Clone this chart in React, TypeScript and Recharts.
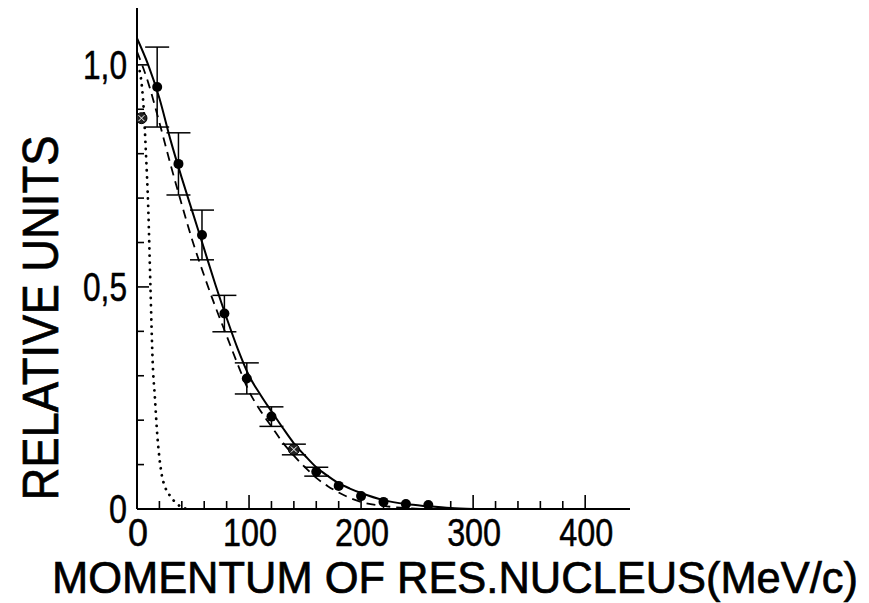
import { ComposedChart, Line, Scatter, ErrorBar, XAxis, YAxis } from 'recharts';

// fit curves (momentum in MeV/c, relative units)
const solidMomentum = [0, 10, 20, 30, 40, 50, 60, 70, 80, 90, 100, 110, 120, 130, 140, 150, 160, 170, 180, 190, 200, 220, 240, 260, 280, 300];
const solidValues = [1.06, 1.0, 0.925, 0.83, 0.745, 0.665, 0.585, 0.505, 0.43, 0.36, 0.3, 0.258, 0.22, 0.183, 0.148, 0.12, 0.094, 0.075, 0.058, 0.046, 0.036, 0.02, 0.011, 0.006, 0.002, 0];

const dashedMomentum = [0, 10, 20, 30, 40, 50, 60, 70, 80, 90, 100, 110, 120, 130, 140, 150, 160, 170, 180, 190, 200, 220, 240, 260];
const dashedValues = [1.03, 0.96, 0.87, 0.775, 0.685, 0.6, 0.525, 0.455, 0.39, 0.325, 0.265, 0.222, 0.186, 0.15, 0.12, 0.094, 0.07, 0.052, 0.037, 0.025, 0.016, 0.007, 0.002, 0];

const dottedMomentum = [0, 2, 4, 6, 8, 10, 12, 14, 16, 18, 20, 22, 25, 30, 35, 40, 45];
const dottedValues = [1.0, 0.99, 0.96, 0.9, 0.8, 0.68, 0.5, 0.33, 0.25, 0.17, 0.115, 0.078, 0.05, 0.028, 0.013, 0.004, 0];

// measured points
const pointMomentum = [18, 37, 58, 78, 98, 120, 160, 180, 200, 220, 240, 260];
const pointValues = [0.95, 0.777, 0.617, 0.44, 0.294, 0.208, 0.084, 0.052, 0.029, 0.016, 0.011, 0.009];
const pointErrors = [0.09, 0.07, 0.056, 0.041, 0.035, 0.022, 0.01, null, null, null, null, null];

const crossedMomentum = [4, 140];
const crossedValues = [0.88, 0.134];
const crossedErrors = [null, 0.012];

const xTicks = [0, 20, 40, 60, 80, 100, 120, 140, 160, 180, 200, 220, 240, 260, 280, 300, 320, 340, 360, 380, 400];
const yTicks = [0, 0.1, 0.2, 0.3, 0.4, 0.5, 0.6, 0.7, 0.8, 0.9, 1.0];
const yLabels: Record<string, string> = { '0': '0', '0.5': '0,5', '1': '1,0' };

const toRows = (xs: number[], ys: number[]) => xs.map((x, i) => ({ x, y: ys[i] }));
const toPoints = (xs: number[], ys: number[], es: (number | null)[]) =>
  xs.map((x, i) => ({ x, y: ys[i], err: es[i] }));

const solidData = toRows(solidMomentum, solidValues);
const dashedData = toRows(dashedMomentum, dashedValues);
const dottedData = toRows(dottedMomentum, dottedValues);
const pointData = toPoints(pointMomentum, pointValues, pointErrors);
const crossedData = toPoints(crossedMomentum, crossedValues, crossedErrors);

const FONT = '"Liberation Sans", Arial, sans-serif';

function XTick(props: any) {
  const { x, y, payload } = props;
  const v = payload.value as number;
  const major = v % 100 === 0;
  const label = String(v);
  return (
    <g>
      <line x1={x} y1={y} x2={x} y2={y - (major ? 14 : 8)} stroke="#000" strokeWidth={1.6} />
      {major && (
        <text x={x + 1} y={y + 37} textAnchor="middle" fontSize={39} fontFamily={FONT} fill="#000"
          stroke="#000" strokeWidth={0.5}
          textLength={label.length === 1 ? 20 : 54} lengthAdjust="spacingAndGlyphs">
          {label}
        </text>
      )}
    </g>
  );
}

function YTick(props: any) {
  const { x, y, payload } = props;
  const key = String(Math.round(payload.value * 10) / 10);
  const label = yLabels[key];
  return (
    <g>
      <line x1={x} y1={y} x2={x + (label ? 12 : 7)} y2={y} stroke="#000" strokeWidth={1.6} />
      {label && (
        <text x={x - 10} y={y + 14} textAnchor="end" fontSize={40} fontFamily={FONT} fill="#000"
          stroke="#000" strokeWidth={0.5}
          textLength={label.length === 1 ? 18 : 44} lengthAdjust="spacingAndGlyphs">
          {label}
        </text>
      )}
    </g>
  );
}

const XTitle = () => (
  <text x={52} y={593} fontSize={44} fontFamily={FONT} fill="#000" stroke="#000" strokeWidth={0.7}
    textLength={806} lengthAdjust="spacingAndGlyphs">
    MOMENTUM OF RES.NUCLEUS(MeV/c)
  </text>
);

const YTitle = () => (
  <text x={58} y={318} transform="rotate(-90 58 318)" textAnchor="middle" fontSize={50} fontFamily={FONT} fill="#000"
    stroke="#000" strokeWidth={0.7} textLength={365} lengthAdjust="spacingAndGlyphs">
    RELATIVE UNITS
  </text>
);

const FilledDot = (props: any) => <circle cx={props.cx} cy={props.cy} r={5} fill="#000" />;

const CrossedDot = (props: any) => {
  const { cx, cy } = props;
  return (
    <g>
      <circle cx={cx} cy={cy} r={5.5} fill="#222" stroke="#000" />
      <line x1={cx - 3} y1={cy - 3} x2={cx + 3} y2={cy + 3} stroke="#fff" strokeWidth={1} />
      <line x1={cx - 3} y1={cy + 3} x2={cx + 3} y2={cy - 3} stroke="#fff" strokeWidth={1} />
    </g>
  );
};

export default function App() {
  return (
    <div style={{ position: 'absolute', left: 0, top: 0, background: '#fff' }}>
      <ComposedChart width={869} height={603} margin={{ top: 8, right: 239, left: 0, bottom: 0 }}>
        <XAxis
          type="number"
          dataKey="x"
          domain={[0, 440]}
          ticks={xTicks}
          interval={0}
          allowDataOverflow
          height={94}
          tickSize={0}
          tickMargin={0}
          tick={<XTick />}
          axisLine={{ stroke: '#000', strokeWidth: 2 }}
          label={<XTitle />}
        />
        <YAxis
          type="number"
          dataKey="y"
          domain={[0, 1.128]}
          ticks={yTicks}
          interval={0}
          allowDataOverflow
          width={137}
          tickSize={0}
          tickMargin={0}
          tick={<YTick />}
          axisLine={{ stroke: '#000', strokeWidth: 2 }}
          label={<YTitle />}
        />
        <Line data={solidData} dataKey="y" type="monotone" stroke="#000" strokeWidth={2} dot={false} activeDot={false} isAnimationActive={false} />
        <Line data={dashedData} dataKey="y" type="monotone" stroke="#000" strokeWidth={1.8} strokeDasharray="9 6" dot={false} activeDot={false} isAnimationActive={false} />
        <Line data={dottedData} dataKey="y" type="monotone" stroke="#000" strokeWidth={2.8} strokeDasharray="0.1 7" strokeLinecap="round" dot={false} activeDot={false} isAnimationActive={false} />
        <Scatter data={pointData} dataKey="y" shape={<FilledDot />} isAnimationActive={false}>
          <ErrorBar dataKey="err" direction="y" width={12} stroke="#000" strokeWidth={1.5} />
        </Scatter>
        <Scatter data={crossedData} dataKey="y" shape={<CrossedDot />} isAnimationActive={false}>
          <ErrorBar dataKey="err" direction="y" width={12} stroke="#000" strokeWidth={1.5} />
        </Scatter>
      </ComposedChart>
    </div>
  );
}
